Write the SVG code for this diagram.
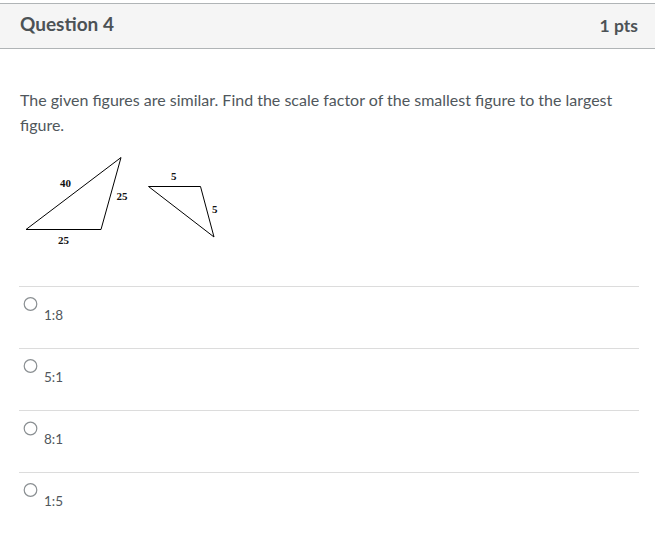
<svg xmlns="http://www.w3.org/2000/svg" width="655" height="553" viewBox="0 0 655 553">
<style>
.hdr{font-family:Lato,"Liberation Sans",sans-serif;font-weight:bold;font-size:18px;fill:#4c5256}
.body{font-family:Lato,"Liberation Sans",sans-serif;font-size:16px;fill:#50575c}
.opt{font-family:Lato,"Liberation Sans",sans-serif;font-size:13.5px;fill:#50575c}
.lbl{font-family:"Liberation Serif",serif;font-weight:bold;font-size:11px;fill:#111}
.tri{fill:none;stroke:#000;stroke-width:1}
.sep{stroke:#dcdcdc;stroke-width:1}
.radio{fill:#fff;stroke:#8a8f92;stroke-width:1.2}
</style>
<rect x="0" y="0" width="655" height="553" fill="#fff"/>
<g id="header">
<rect x="0" y="3.5" width="655" height="45" fill="#f5f5f5"/>
<line x1="0" y1="3.5" x2="655" y2="3.5" stroke="#b0b4b6" stroke-width="1"/>
<line x1="0" y1="48.5" x2="655" y2="48.5" stroke="#b0b4b6" stroke-width="1"/>
<text class="hdr" x="20" y="31" style="font-size:19px">Question 4</text>
<text class="hdr" x="638" y="32" text-anchor="end" style="font-size:17.5px">1 pts</text>
</g>
<g id="question">
<text class="body" x="20" y="106">The given figures are similar. Find the scale factor of the smallest figure to the largest</text>
<text class="body" x="20" y="131">figure.</text>
</g>
<g id="figure-large">
<polygon class="tri" points="26,229.5 101,229.5 121,157.5"/>
<text class="lbl" x="60" y="187.3">40</text>
<text class="lbl" x="116.5" y="200">25</text>
<text class="lbl" x="58" y="244">25</text>
</g>
<g id="figure-small">
<polygon class="tri" points="148.5,186.5 200.5,186.5 214,237"/>
<text class="lbl" x="171" y="180">5</text>
<text class="lbl" x="212" y="213">5</text>
</g>
<g id="options">
<line class="sep" x1="19" y1="286.5" x2="639" y2="286.5"/>
<line class="sep" x1="19" y1="348.5" x2="639" y2="348.5"/>
<line class="sep" x1="19" y1="410.5" x2="639" y2="410.5"/>
<line class="sep" x1="19" y1="472.5" x2="639" y2="472.5"/>
<g id="opt1"><circle class="radio" cx="30.5" cy="304" r="6.3"/><text class="opt" x="44" y="319.5">1:8</text></g>
<g id="opt2"><circle class="radio" cx="30.5" cy="366" r="6.3"/><text class="opt" x="44" y="381.5">5:1</text></g>
<g id="opt3"><circle class="radio" cx="30.5" cy="428.5" r="6.3"/><text class="opt" x="44" y="443.5">8:1</text></g>
<g id="opt4"><circle class="radio" cx="30.5" cy="490" r="6.3"/><text class="opt" x="44" y="505.5">1:5</text></g>
</g>
</svg>
